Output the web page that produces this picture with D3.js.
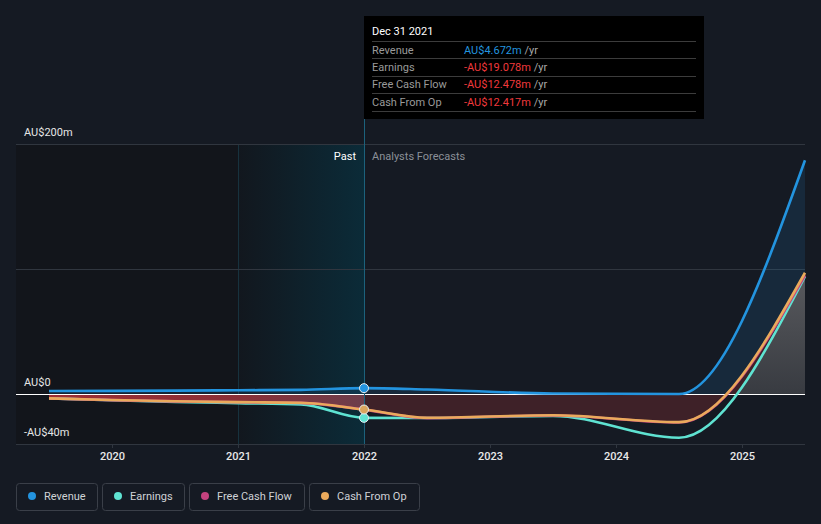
<!DOCTYPE html>
<html><head><meta charset="utf-8">
<script src="https://cdn.jsdelivr.net/npm/d3@7"></script>
<style>
html,body{margin:0;padding:0;background:#151a23;}
svg{display:block;font-family:Roboto,"Noto Sans",sans-serif;}
</style></head>
<body><svg id="c" width="821" height="524"></svg>
<script>
// ---- data (AU$ millions) ----
const periods   = [2019.5, 2020.0, 2020.5, 2021.0, 2021.5, 2022.0, 2022.5, 2023.5, 2024.5, 2025.5];
const revenue   = [2.4, 2.5, 2.7, 3.0, 3.3, 4.672, 3.6, 0.4, 0.0, 187];
const earnings  = [-3.5, -5.0, -6.3, -7.3, -8.3, -19.078, -19.2, -17.5, -35, 94];
const freeCash  = [-3.6, -4.9, -5.9, -6.6, -7.1, -12.478, -19.3, -17.2, -22.8, 95];
const cashOp    = [-3.5, -4.8, -5.8, -6.5, -7.0, -12.417, -19.0, -17.0, -22.5, 97];
const xTicks    = [2020, 2021, 2022, 2023, 2024, 2025];
const yTicks    = [-40, 0, 200];
const yTickLabels = ["-AU$40m", "AU$0", "AU$200m"];
const pastEnd = 2022.0;
const tooltipTitle = "Dec 31 2021";
const tooltipRows = [
  {label:"Revenue", value:"AU$4.672m", color:"#2394df"},
  {label:"Earnings", value:"-AU$19.078m", color:"#f0393c"},
  {label:"Free Cash Flow", value:"-AU$12.478m", color:"#f0393c"},
  {label:"Cash From Op", value:"-AU$12.417m", color:"#f0393c"}
];
const legendItems = [
  {name:"Revenue", color:"#2394df"},
  {name:"Earnings", color:"#5fe3d2"},
  {name:"Free Cash Flow", color:"#c4427e"},
  {name:"Cash From Op", color:"#eaaa5c"}
];

const svg = d3.select("#c");
const left = 16, right = 805;
const x = d3.scaleLinear().domain([2019.5, 2025.5]).range([49, 805]);
const y = d3.scaleLinear().domain([-40, 200]).range([444, 144]);
const px = x(pastEnd);

const defs = svg.append("defs");
const band = defs.append("linearGradient").attr("id","band").attr("x1","0").attr("x2","1").attr("y1","0").attr("y2","0");
band.append("stop").attr("offset","0").attr("stop-color","#12171e");
band.append("stop").attr("offset","1").attr("stop-color","#0b2b38");
const red = defs.append("linearGradient").attr("id","red").attr("gradientUnits","userSpaceOnUse")
  .attr("x1",x(2019.5)).attr("x2",px).attr("y1",0).attr("y2",0);
red.append("stop").attr("offset","0").attr("stop-color","#9e2d33");
red.append("stop").attr("offset","0.6").attr("stop-color","#8a3038");
red.append("stop").attr("offset","1").attr("stop-color","#6c3e4b");
const grey = defs.append("linearGradient").attr("id","grey").attr("gradientUnits","userSpaceOnUse")
  .attr("x1",0).attr("x2",0).attr("y1",y(100)).attr("y2",y(0));
grey.append("stop").attr("offset","0").attr("stop-color","#5a5b5f");
grey.append("stop").attr("offset","1").attr("stop-color","#383b41");
defs.append("clipPath").attr("id","past").append("rect").attr("x",0).attr("y",0).attr("width",px).attr("height",524);
defs.append("clipPath").attr("id","fut").append("rect").attr("x",px).attr("y",0).attr("width",821-px).attr("height",524);
defs.append("clipPath").attr("id","pos").append("rect").attr("x",0).attr("y",0).attr("width",821).attr("height",y(0));

// backgrounds
svg.append("rect").attr("x",left).attr("y",y(200)).attr("width",x(2021)-left).attr("height",y(-40)-y(200)).attr("fill","#12151b");
svg.append("rect").attr("x",x(2021)).attr("y",y(200)).attr("width",px-x(2021)).attr("height",y(-40)-y(200)).attr("fill","url(#band)");
svg.append("line").attr("x1",x(2021)+0.5).attr("x2",x(2021)+0.5).attr("y1",y(200)).attr("y2",y(-40)).attr("stroke","#17323e");

// gridlines
svg.append("g").selectAll("line").data([200,100,-40]).join("line")
  .attr("x1",left).attr("x2",right).attr("y1",d=>Math.round(y(d))+0.5).attr("y2",d=>Math.round(y(d))+0.5)
  .attr("stroke","#30363f");

// y labels
svg.append("g").selectAll("text").data(yTicks).join("text")
  .attr("x",24).attr("y",d=>y(d)-8).text((d,i)=>yTickLabels[i])
  .attr("fill","#e6e6e6").attr("font-size",11);

// x axis
const ax = svg.append("g").attr("transform",`translate(0,${y(-40)})`)
  .call(d3.axisBottom(x).tickValues(xTicks).tickFormat(d3.format("d")).tickSize(4).tickPadding(4));
ax.select(".domain").remove();
ax.selectAll(".tick line").attr("stroke","#30363f");
ax.selectAll(".tick text").attr("fill","#e8e8e8").attr("font-size",11).attr("font-weight",500)
  .attr("font-family","Roboto,sans-serif");

const curve = d3.curveMonotoneX;
const area = arr => d3.area().x((d,i)=>x(periods[i])).y0(y(0)).y1((d)=>y(d)).curve(curve)(arr);
const line = arr => d3.line().x((d,i)=>x(periods[i])).y(d=>y(d)).curve(curve)(arr);

// areas
svg.append("path").attr("d",area(revenue)).attr("fill","#2394df").attr("opacity",0.13);
svg.append("path").attr("d",area(freeCash)).attr("fill","url(#red)").attr("clip-path","url(#past)");
svg.append("path").attr("d",area(freeCash)).attr("fill","#3e2128").attr("clip-path","url(#fut)");
svg.append("path").attr("d",area(earnings)).attr("fill","url(#grey)").attr("clip-path","url(#pos)");

// zero line
svg.append("line").attr("x1",left).attr("x2",right).attr("y1",y(0)+0.5).attr("y2",y(0)+0.5).attr("stroke","#ffffff").attr("stroke-width",1.2);

// lines
const series = [
  {v:earnings, c:"#5fe3d2"},
  {v:freeCash, c:"#c4427e"},
  {v:cashOp, c:"#eaaa5c"},
  {v:revenue, c:"#2394df"}
];
series.forEach(s=>{
  svg.append("path").attr("d",line(s.v)).attr("fill","none").attr("stroke",s.c).attr("stroke-width",2.6);
});

// vertical marker line and tooltip
svg.append("line").attr("x1",px+0.5).attr("x2",px+0.5).attr("y1",16).attr("y2",y(-40)).attr("stroke","#1c627c");
const pi = periods.indexOf(pastEnd);
[{v:earnings,c:"#5fe3d2"},{v:cashOp,c:"#d9a55e"},{v:revenue,c:"#2394df"}].forEach(s=>{
  svg.append("circle").attr("cx",px).attr("cy",y(s.v[pi])).attr("r",4.5).attr("fill",s.c).attr("stroke","#e6eef2").attr("stroke-width",1);
});

svg.append("text").attr("x",px-8).attr("y",160).attr("text-anchor","end").attr("fill","#ffffff").attr("font-size",11).text("Past");
svg.append("text").attr("x",px+8).attr("y",160).attr("fill","#8b9098").attr("font-size",11).text("Analysts Forecasts");

const tt = svg.append("g");
tt.append("rect").attr("x",px).attr("y",16).attr("width",340).attr("height",103).attr("fill","#000");
tt.append("text").attr("x",372).attr("y",35).attr("fill","#fff").attr("font-size",11).text(tooltipTitle);
const rowY = [41, 58, 75.5, 93, 110.5];
rowY.forEach(ry=>tt.append("line").attr("x1",372).attr("x2",696).attr("y1",Math.round(ry)+0.5).attr("y2",Math.round(ry)+0.5).attr("stroke","#3c3c3c"));
tooltipRows.forEach((r,i)=>{
  const by = rowY[i]+12.5;
  tt.append("text").attr("x",372).attr("y",by).attr("fill","#9a9a9a").attr("font-size",11).text(r.label);
  const t = tt.append("text").attr("x",464).attr("y",by).attr("font-size",11);
  t.append("tspan").attr("fill",r.color).text(r.value);
  t.append("tspan").attr("fill","#a8a8a8").text(" /yr");
});

// legend
const boxes = [[16,97],[102,184],[189,304],[309,419]];
const lg = svg.append("g");
legendItems.forEach((it,i)=>{
  const [x0,x1] = boxes[i];
  lg.append("rect").attr("x",x0+0.5).attr("y",483.5).attr("width",x1-x0).attr("height",27).attr("rx",3)
    .attr("fill","none").attr("stroke","#3a3f48");
  lg.append("circle").attr("cx",x0+16).attr("cy",496).attr("r",4).attr("fill",it.color);
  lg.append("text").attr("x",x0+28).attr("y",500).attr("fill","#cfd2d6").attr("font-size",11).text(it.name);
});
</script></body></html>
